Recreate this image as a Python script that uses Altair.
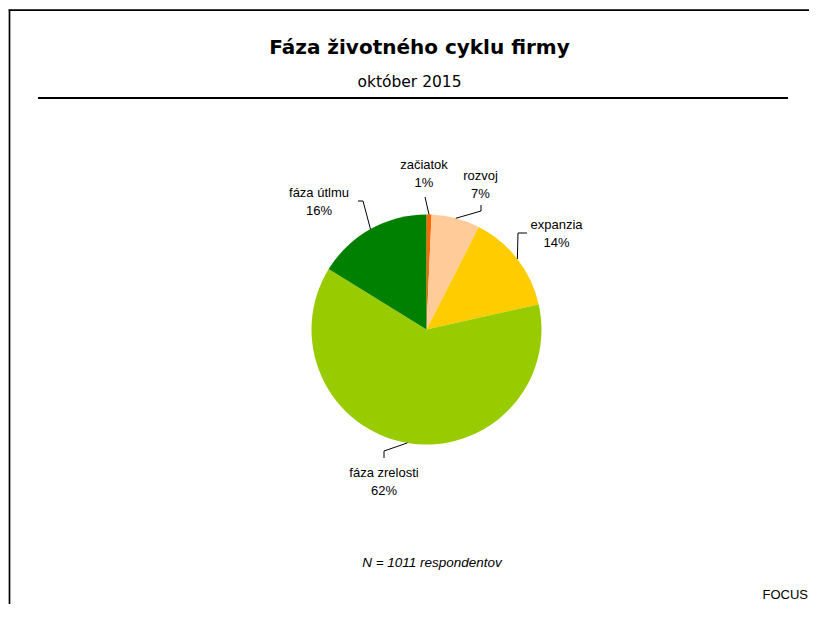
import altair as alt
import numpy as np
import pandas as pd

# ---- data -------------------------------------------------------------
categories = ["začiatok", "rozvoj", "expanzia", "fáza zrelosti", "fáza útlmu"]
shares = [0.7, 6.8, 14.0, 62.3, 16.2]
share_labels = ["1%", "7%", "14%", "62%", "16%"]
colors = ["#FF6600", "#FFCC99", "#FFCC00", "#99CC00", "#008000"]

title_text = "Fáza životného cyklu firmy"
subtitle_text = "október 2015"
note_text = "N = 1011 respondentov"
source_text = "FOCUS"

# ---- layout (pixels, relative to the chart / pie centre) ---------------
W, H = 801, 596
CX, CY, R = 418.5, 321.5, 115
LINE_GAP = 18
# label anchor: (dx of centre, dy of 2nd-line baseline) from pie centre
label_anchor = {
    "začiatok": (-2.5, -142.5),
    "rozvoj": (54, -131.5),
    "expanzia": (130, -82.5),
    "fáza zrelosti": (-42.5, 165.5),
    "fáza útlmu": (-107.5, -114.5),
}
# leader line bends/ends after leaving the pie edge
leader_path = {
    "začiatok": [(-1.5, -132.5)],
    "rozvoj": [(54.5, -118.5), (54.5, -124.5)],
    "expanzia": [(91.5, -96.5), (100.5, -96.5)],
    "fáza zrelosti": [(-42.5, 121.5), (-42.5, 128.5)],
    "fáza útlmu": [(-63.5, -128.5), (-68.5, -128.5)],
}

df = pd.DataFrame({"cat": categories, "share": shares, "lab": share_labels,
                   "order": range(len(categories))})

# mid angles (clockwise from 12 o'clock) matching Vega's stacked theta
frac = np.array(shares) / sum(shares)
mid = (np.cumsum(frac) - frac / 2) * 2 * np.pi

text_rows, line_rows = [], []
for i, c in enumerate(categories):
    ax, ay = label_anchor[c]
    text_rows.append({"cat": c, "t": c, "x": CX + ax, "y": CY + ay - LINE_GAP})
    text_rows.append({"cat": c, "t": share_labels[i], "x": CX + ax, "y": CY + ay})
    pts = [(R * np.sin(mid[i]), -R * np.cos(mid[i]))] + leader_path[c]
    for k, (px, py) in enumerate(pts):
        line_rows.append({"cat": c, "step": k, "x": CX + px, "y": CY + py})
labels_df = pd.DataFrame(text_rows)
lines_df = pd.DataFrame(line_rows)

one = pd.DataFrame({"a": [0]})

pie = alt.Chart(df).mark_arc(outerRadius=R, stroke=None).encode(
    theta=alt.Theta("share:Q", stack=True),
    color=alt.Color("cat:N", scale=alt.Scale(domain=categories, range=colors), legend=None),
    order=alt.Order("order:Q"),
    x=alt.value(CX),
    y=alt.value(CY),
)

labels = alt.Chart(labels_df).mark_text(
    font="Liberation Sans", fontSize=13, color="#000000", align="center", baseline="alphabetic"
).encode(
    x=alt.X("x:Q", scale=None), y=alt.Y("y:Q", scale=None), text="t:N"
)

leaders = alt.Chart(lines_df).mark_line(color="#000000", strokeWidth=1).encode(
    x=alt.X("x:Q", scale=None), y=alt.Y("y:Q", scale=None),
    detail="cat:N", order="step:Q"
)

frame_left = alt.Chart(one).mark_rule(color="#000000", strokeWidth=1.7).encode(
    x=alt.value(1.5), y=alt.value(1.4), y2=alt.value(H))
frame_top = alt.Chart(one).mark_rule(color="#000000", strokeWidth=1.7).encode(
    x=alt.value(0.7), x2=alt.value(W), y=alt.value(2.2))
header_rule = alt.Chart(one).mark_rule(color="#000000", strokeWidth=2.2).encode(
    x=alt.value(30), x2=alt.value(780), y=alt.value(90))

title = alt.Chart(one).mark_text(
    font="DejaVu Sans", fontWeight="bold", fontSize=20, align="center", baseline="alphabetic"
).encode(x=alt.value(411.5), y=alt.value(46), text=alt.value(title_text))
subtitle = alt.Chart(one).mark_text(
    font="DejaVu Sans", fontSize=15.5, align="center", baseline="alphabetic"
).encode(x=alt.value(401.5), y=alt.value(79), text=alt.value(subtitle_text))
note = alt.Chart(one).mark_text(
    font="Liberation Sans", fontStyle="italic", fontSize=13.5, align="center", baseline="alphabetic"
).encode(x=alt.value(424), y=alt.value(559), text=alt.value(note_text))
source = alt.Chart(one).mark_text(
    font="Liberation Sans", fontSize=13, align="right", baseline="alphabetic"
).encode(x=alt.value(W - 1), y=alt.value(591), text=alt.value(source_text))

chart = alt.layer(
    frame_left, frame_top, header_rule, title, subtitle, pie, leaders, labels, note, source
).properties(
    width=W, height=H,
    autosize=alt.AutoSizeParams(type="none"),
    padding=0,
    background="#FFFFFF",
).configure_view(stroke=None)

chart.save("out.html", embed_options={"renderer": "svg", "actions": False})
